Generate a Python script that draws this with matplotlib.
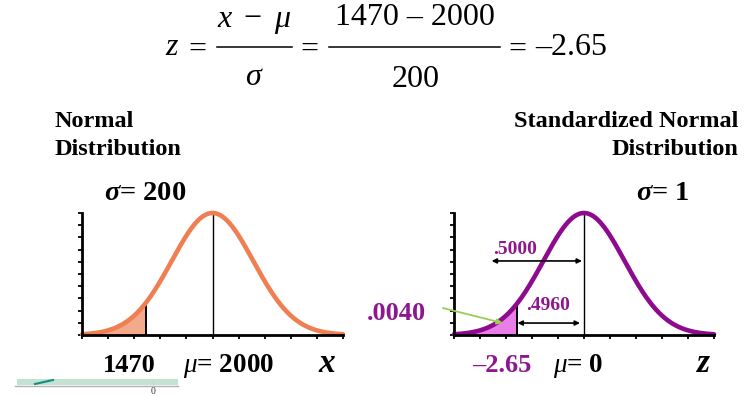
import numpy as np
import matplotlib.pyplot as plt
from matplotlib.patches import Rectangle
from matplotlib.lines import Line2D

plt.rcParams['font.family'] = ['Liberation Serif', 'DejaVu Serif']
plt.rcParams['mathtext.fontset'] = 'custom'
plt.rcParams['mathtext.rm'] = 'Liberation Serif'
plt.rcParams['mathtext.it'] = 'Liberation Serif:italic'
plt.rcParams['mathtext.bf'] = 'Liberation Serif:bold'
plt.rcParams['mathtext.bfit'] = 'Liberation Serif:italic:bold'

# values
mu = 2000
sigma = 200
x_value = 1470
z_value = -2.65
area_half = '.5000'
area_between = '.4960'
area_tail = '.0040'

# drawing of the schematic bell (in sigma units)
span = 5.18
bell_width = 1.62

W, H = 756, 397
fig = plt.figure(figsize=(W / 100, H / 100), dpi=100)


def fx(x):
    return x / W


def fy(y):
    return 1 - y / H


def bell(x, m, s):
    return np.exp(-0.5 * ((x - m) / (bell_width * s)) ** 2)


def hline(x0, x1, y, color='black', lw=1.0):
    fig.lines.append(Line2D([fx(x0), fx(x1)], [fy(y), fy(y)],
                            transform=fig.transFigure, color=color, lw=lw))


def draw_panel(rect, m, s, cut, line_color, fill_color):
    ax = fig.add_axes(rect)
    lo, hi = m - span * s, m + span * s
    xs = np.linspace(lo, hi, 500)
    ys = bell(xs, m, s)
    mask = xs <= cut
    ax.fill_between(xs[mask], 0, ys[mask], color=fill_color, lw=0)
    ax.plot([cut, cut], [0, bell(cut, m, s)], color='black', lw=1.4)
    ax.plot([m, m], [0, 1], color='black', lw=1.0)
    ax.plot(xs, ys, color=line_color, lw=3.3, solid_capstyle='round', clip_on=False)
    ax.set_xlim(lo, hi)
    ax.set_ylim(0, 1)
    for side in ['top', 'right']:
        ax.spines[side].set_visible(False)
    for side in ['left', 'bottom']:
        ax.spines[side].set_linewidth(2)
    ax.set_xticks(np.linspace(lo, hi, 11))
    ax.set_yticks(np.linspace(0, 1, 11))
    ax.set_xticklabels([])
    ax.set_yticklabels([])
    ax.tick_params(direction='out', length=3, width=1.3)
    ax.patch.set_alpha(0)
    return ax


ax1 = draw_panel([fx(82), fy(335), 261 / W, 122 / H], mu, sigma, x_value,
                 '#ef7f52', '#f3a98c')
ax2 = draw_panel([fx(454), fy(335), 260 / W, 122 / H], 0, 1, z_value,
                 '#8e0a8e', '#e87ee6')

# arrows on the standard curve
both = dict(arrowstyle='<|-|>', color='black', lw=1.2,
            shrinkA=0, shrinkB=0, mutation_scale=7)
ax2.annotate('', xy=(-0.08, 0.607), xytext=(-3.68, 0.607), arrowprops=both)
ax2.annotate('', xy=(-0.16, 0.098), xytext=(z_value, 0.098), arrowprops=both)
ax2.annotate('', xy=(-3.24, 0.098), xytext=(-5.62, 0.221),
             annotation_clip=False,
             arrowprops=dict(arrowstyle='-|>', color='#9acd52', lw=1.3,
                             shrinkA=0, shrinkB=0, mutation_scale=8))

purple = '#8e168e'

# formula, laid out piece by piece
fs = 23
eq = dict(fontsize=fs, va='baseline')
fig.text(fx(165), fy(55), r'$z$', **eq)
fig.text(fx(197), fy(58), '=', ha='center', **eq)
fig.text(fx(254), fy(27), r'$x\ -\ \mu$', ha='center', **eq)
hline(217, 292, 47, lw=1.1)
fig.text(fx(254), fy(85), r'$\sigma$', ha='center', **eq)
fig.text(fx(309), fy(58), '=', ha='center', **eq)
fig.text(fx(415), fy(25), '%d \u2013 %d' % (x_value, mu), ha='center', **eq)
hline(329, 500, 47, lw=1.1)
fig.text(fx(416), fy(87), str(sigma), ha='center', **eq)
fig.text(fx(517), fy(58), '=', ha='center', **eq)
fig.text(fx(535), fy(55), '\u2013' + str(abs(z_value)), **eq)

bold = dict(weight='bold', va='baseline')
fig.text(fx(55), fy(127), 'Normal', fontsize=17.5, **bold)
fig.text(fx(55), fy(155), 'Distribution', fontsize=17.5, **bold)
fig.text(fx(738), fy(127), 'Standardized Normal', fontsize=17.5, ha='right', **bold)
fig.text(fx(738), fy(155), 'Distribution', fontsize=17.5, ha='right', **bold)

fig.text(fx(104), fy(200), r'$\mathbfit{\sigma}$= %d' % sigma, fontsize=20.5, **bold)
fig.text(fx(636), fy(200), r'$\mathbfit{\sigma}$= 1', fontsize=20.5, **bold)

fig.text(fx(103), fy(372), str(x_value), fontsize=19, **bold)
fig.text(fx(183), fy(372), r'$\mu$= %d' % mu, fontsize=19.5, **bold)
fig.text(fx(318), fy(372), 'x', fontsize=24, style='italic', **bold)
fig.text(fx(472), fy(372), '\u2013' + str(abs(z_value)), fontsize=19, color=purple, **bold)
fig.text(fx(553), fy(372), r'$\mu$= 0', fontsize=19.5, **bold)
fig.text(fx(697), fy(372), 'z', fontsize=24, style='italic', **bold)

fig.text(fx(367), fy(320), area_tail, fontsize=19, color=purple, **bold)
fig.text(fx(493), fy(254), area_half, fontsize=14, color=purple, **bold)
fig.text(fx(526), fy(310), area_between, fontsize=14, color=purple, **bold)

# screenshot remnant at the bottom left
fig.patches.append(Rectangle((fx(17), fy(385)), 161 / W, 6 / H,
                             transform=fig.transFigure, color='#c3e2d2', lw=0))
hline(15, 178, 386, color='#b0b0b0')
fig.lines.append(Line2D([fx(35), fx(53)], [fy(384), fy(380)],
                        transform=fig.transFigure, color='#10907a', lw=1.5))
fig.lines.append(Line2D([fx(153), fx(153)], [fy(379), fy(386)],
                        transform=fig.transFigure, color='#d0d0d0', lw=0.8))
fig.text(fx(153), fy(396), '0', fontsize=7, ha='center', va='bottom', color='#333333')

fig.savefig('out.png', dpi=100)
